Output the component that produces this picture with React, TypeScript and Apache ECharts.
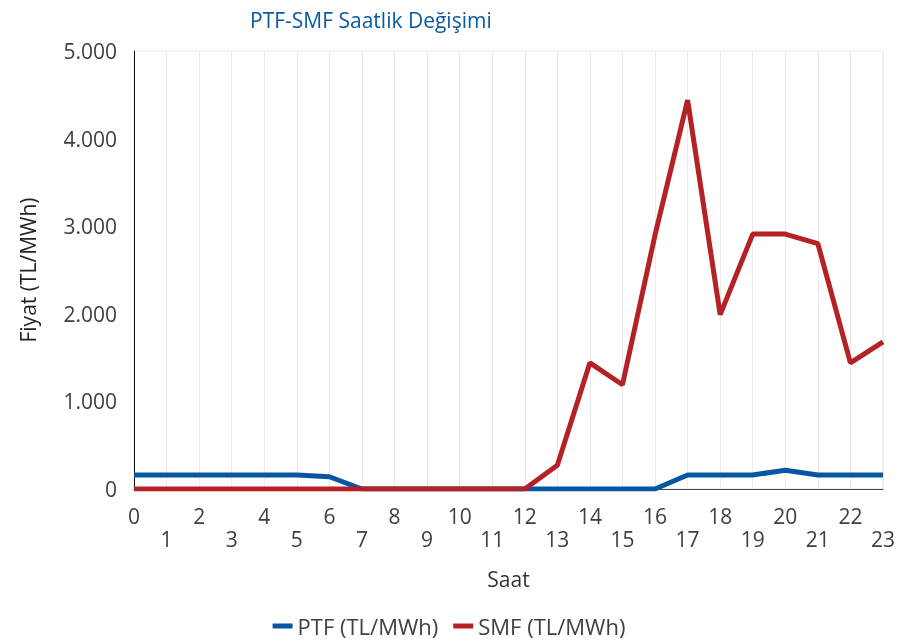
import React, { useEffect, useRef } from "react";
import * as echarts from "echarts";

const hours = Array.from({ length: 24 }, (_, i) => String(i));
const ptf = [160, 160, 160, 160, 160, 160, 140, 0, 0, 0, 0, 0, 0, 0, 0, 0, 0, 160, 160, 160, 215, 160, 160, 160];
const smf = [0, 0, 0, 0, 0, 0, 0, 0, 0, 0, 0, 0, 0, 270, 1440, 1190, 2900, 4440, 1990, 2910, 2910, 2800, 1440, 1680];
const yTicks = [0, 1000, 2000, 3000, 4000, 5000];

const fmt = (v: number) => String(v).replace(/\B(?=(\d{3})+(?!\d))/g, ".");
const FONT = "'Open Sans', 'Noto Sans', sans-serif";

export default function App() {
  const ref = useRef<HTMLDivElement>(null);
  useEffect(() => {
    const chart = echarts.init(ref.current!, undefined, { renderer: "svg" });
    chart.setOption({
      animation: false,
      textStyle: { fontFamily: FONT },
      title: {
        text: "PTF-SMF Saatlik Değişimi",
        left: 245,
        top: 4,
        textStyle: { color: "#0b5aa6", fontSize: 21, fontWeight: "normal", fontFamily: FONT },
      },
      legend: {
        bottom: 2,
        left: "center",
        icon: "rect",
        itemWidth: 20,
        itemHeight: 5,
        itemGap: 15,
        textStyle: { fontSize: 22, color: "#404040", fontFamily: FONT },
        data: ["PTF (TL/MWh)", "SMF (TL/MWh)"],
      },
      grid: {
        left: 134,
        right: 10,
        top: 51,
        bottom: 155,
        show: true,
        borderColor: "#ebebeb",
        borderWidth: 1,
      },
      xAxis: {
        type: "category",
        data: hours,
        boundaryGap: false,
        name: "Saat",
        nameLocation: "middle",
        nameGap: 79,
        nameTextStyle: { fontSize: 21, color: "#333", fontFamily: FONT },
        axisLine: { lineStyle: { color: "#444", width: 1 } },
        axisTick: { show: false },
        splitLine: { show: true, interval: 0, lineStyle: { color: "#ebebeb", width: 1 } },
        axisLabel: {
          interval: 0,
          fontSize: 21,
          color: "#404040",
          margin: 15,
          lineHeight: 23,
          fontFamily: FONT,
          formatter: (v: string, i: number) => (i % 2 === 1 ? "\n" + v : v),
        },
      },
      yAxis: {
        type: "value",
        min: yTicks[0],
        max: yTicks[yTicks.length - 1],
        interval: 1000,
        name: "Fiyat (TL/MWh)",
        nameLocation: "middle",
        nameGap: 96,
        nameTextStyle: { fontSize: 21, color: "#222", fontFamily: FONT },
        axisLine: { show: true, lineStyle: { color: "#111", width: 1 } },
        axisTick: { show: false },
        splitLine: { show: false },
        axisLabel: { fontSize: 21, color: "#404040", margin: 17, fontFamily: FONT, formatter: (v: number) => fmt(v) },
      },
      series: [
        {
          name: "PTF (TL/MWh)",
          type: "line",
          data: ptf,
          symbol: "none",
          lineStyle: { color: "#0656a4", width: 5 },
          itemStyle: { color: "#0656a4" },
          z: 2,
        },
        {
          name: "SMF (TL/MWh)",
          type: "line",
          data: smf,
          symbol: "none",
          lineStyle: { color: "#b42226", width: 5 },
          itemStyle: { color: "#b42226" },
          z: 3,
        },
      ],
    });
    return () => chart.dispose();
  }, []);
  return <div ref={ref} style={{ position: "fixed", left: 0, top: 0, width: 898, height: 644 }} />;
}
